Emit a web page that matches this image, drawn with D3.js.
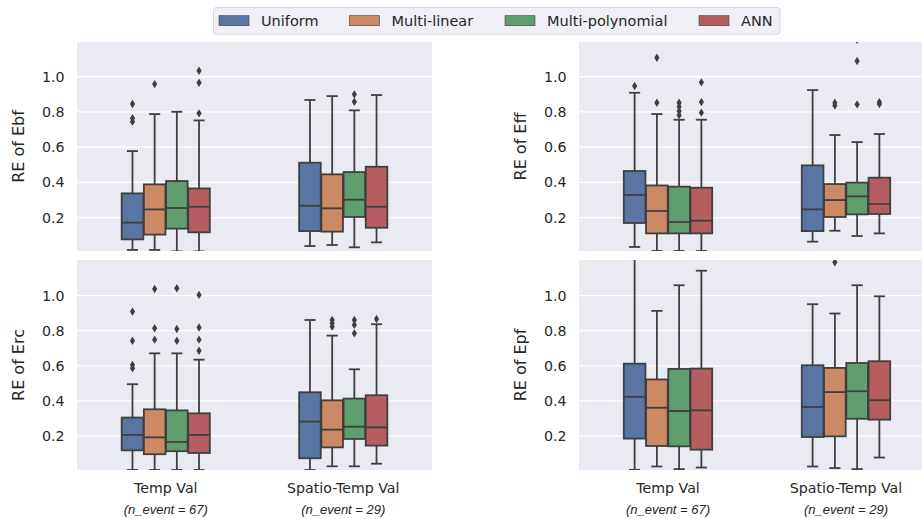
<!DOCTYPE html>
<html>
<head>
<meta charset="utf-8">
<script src="https://cdn.jsdelivr.net/npm/d3@7"></script>
<style>
html,body{margin:0;padding:0;background:#fff;}
svg{display:block;font-family:"DejaVu Sans",sans-serif;}
</style>
</head>
<body>
<svg id="chart" width="922" height="519"></svg>
<script>
// ---------------- DATA ----------------
const categories = ["Temp Val", "Spatio-Temp Val"];
const eventCounts = ["(n_event = 67)", "(n_event = 29)"];
const methods = ["Uniform", "Multi-linear", "Multi-polynomial", "ANN"];
const metrics = ["Ebf", "Eff", "Erc", "Epf"];
const yTicks = [0.2, 0.4, 0.6, 0.8, 1.0];

// box stats: [whiskerLow, Q1, median, Q3, whiskerHigh] per category, per method
const ebfStats = [
  [[0.017,0.077,0.172,0.338,0.578],[0.017,0.104,0.247,0.389,0.788],[0.009,0.138,0.255,0.408,0.801],[0.009,0.117,0.262,0.366,0.752]],
  [[0.039,0.124,0.268,0.512,0.868],[0.045,0.121,0.253,0.446,0.890],[0.032,0.204,0.302,0.459,0.809],[0.060,0.143,0.262,0.489,0.896]]
];
const ebfOutliers = [
  [[0.845,0.764,0.745],[0.958],[],[1.034,0.966,0.792]],
  [[],[],[0.900,0.858],[]]
];
const effStats = [
  [[0.034,0.170,0.329,0.465,0.909],[0.011,0.111,0.238,0.383,0.788],[0.011,0.111,0.175,0.376,0.756],[0.011,0.111,0.183,0.370,0.756]],
  [[0.064,0.124,0.247,0.497,0.924],[0.126,0.204,0.300,0.391,0.669],[0.096,0.219,0.321,0.399,0.629],[0.111,0.221,0.278,0.427,0.675]]
];
const effOutliers = [
  [[0.947],[1.108,0.852],[0.852,0.830,0.805,0.782],[0.968,0.856,0.796]],
  [[],[0.852,0.836],[1.21,1.089,0.843],[0.856,0.845]]
];
const ercStats = [
  [[0.006,0.118,0.206,0.305,0.495],[0.006,0.096,0.192,0.352,0.671],[0.006,0.113,0.166,0.346,0.671],[0.006,0.103,0.206,0.329,0.635]],
  [[0.006,0.073,0.282,0.449,0.861],[0.027,0.135,0.236,0.403,0.772],[0.027,0.183,0.253,0.413,0.580],[0.042,0.145,0.249,0.432,0.837]]
];
const ercOutliers = [
  [[0.909,0.743,0.605,0.586],[1.038,0.814,0.749],[1.042,0.810,0.743],[1.004,0.818,0.749,0.686]],
  [[],[0.861,0.842,0.823],[0.861,0.833,0.785],[0.867]]
];
const epfStats = [
  [[0.007,0.185,0.423,0.612,1.25],[0.026,0.143,0.361,0.522,0.913],[0.011,0.141,0.342,0.582,1.059],[0.020,0.122,0.346,0.584,1.142]],
  [[0.026,0.194,0.365,0.603,0.951],[0.017,0.198,0.450,0.588,0.898],[0.011,0.298,0.455,0.616,1.059],[0.077,0.293,0.404,0.626,0.996]]
];
const epfOutliers = [
  [[],[],[],[]],
  [[],[1.19],[],[]]
];

// ---------------- STYLE / LAYOUT ----------------
const colors = ["#5975a4", "#cc8963", "#5f9e6e", "#b55d60"];
const lineColor = "#3f3f3f";
const bg = "#eaeaf2";

const panels = [
  {metric:"Ebf", stats:ebfStats, outliers:ebfOutliers, x0:77,  x1:432, y0:42,  y1:251, dom:[0.011,1.197], labX:18,  showX:false},
  {metric:"Eff", stats:effStats, outliers:effOutliers, x0:579, x1:935, y0:42,  y1:251, dom:[0.011,1.197], labX:520, showX:false},
  {metric:"Erc", stats:ercStats, outliers:ercOutliers, x0:77,  x1:432, y0:260, y1:470, dom:[0.006,1.203], labX:18,  showX:true},
  {metric:"Epf", stats:epfStats, outliers:epfOutliers, x0:579, x1:935, y0:260, y1:470, dom:[0.006,1.203], labX:520, showX:true}
];

const svg = d3.select("#chart");
const color = d3.scaleOrdinal().domain(methods).range(colors);

panels.forEach((p, pi) => {
  const g = svg.append("g");
  const x = d3.scaleBand().domain(categories).range([p.x0, p.x1]);
  const groupW = x.bandwidth() * 0.5;
  const inner = d3.scaleBand().domain(methods).range([0, groupW]);
  const y = d3.scaleLinear().domain(p.dom).range([p.y1, p.y0]);

  const clipId = "clip" + pi;
  svg.append("clipPath").attr("id", clipId).append("rect")
    .attr("x", p.x0).attr("y", p.y0).attr("width", p.x1 - p.x0).attr("height", p.y1 - p.y0);

  g.append("rect").attr("x", p.x0).attr("y", p.y0)
    .attr("width", p.x1 - p.x0).attr("height", p.y1 - p.y0).attr("fill", bg);

  g.selectAll("line.grid").data(yTicks).enter().append("line")
    .attr("x1", p.x0).attr("x2", p.x1)
    .attr("y1", d => y(d)).attr("y2", d => y(d))
    .attr("stroke", "#fff").attr("stroke-width", 1.3);

  // y axis
  const yAxis = g.append("g").attr("transform", `translate(${p.x0},0)`)
    .call(d3.axisLeft(y).tickValues(yTicks).tickSize(0).tickPadding(12.5).tickFormat(d3.format(".1f")));
  yAxis.select(".domain").remove();
  yAxis.selectAll("text").attr("font-size", "14.2px").attr("fill", "#262626")
    .attr("font-family", "DejaVu Sans");

  g.append("text")
    .attr("transform", `translate(${p.labX},${(p.y0 + p.y1) / 2}) rotate(-90)`)
    .attr("text-anchor", "middle").attr("dy", "0.35em")
    .attr("font-size", "16px").attr("fill", "#262626")
    .text("RE of " + p.metric);

  // boxes
  const plot = g.append("g").attr("clip-path", `url(#${clipId})`);
  categories.forEach((cat, ci) => {
    methods.forEach((m, mi) => {
      const s = p.stats[ci][mi];
      const bw = inner.bandwidth();
      const bx = x(cat) + (x.bandwidth() - groupW) / 2 + inner(m);
      const cx = bx + bw / 2;
      const bxg = plot.append("g");
      // whiskers
      bxg.append("line").attr("x1", cx).attr("x2", cx).attr("y1", y(s[0])).attr("y2", y(s[1]))
        .attr("stroke", lineColor).attr("stroke-width", 1.8);
      bxg.append("line").attr("x1", cx).attr("x2", cx).attr("y1", y(s[3])).attr("y2", y(s[4]))
        .attr("stroke", lineColor).attr("stroke-width", 1.8);
      // caps
      [s[0], s[4]].forEach(v => {
        bxg.append("line").attr("x1", cx - bw / 4).attr("x2", cx + bw / 4)
          .attr("y1", y(v)).attr("y2", y(v))
          .attr("stroke", lineColor).attr("stroke-width", 1.8);
      });
      // box
      bxg.append("rect").attr("x", bx + 0.3).attr("width", bw - 0.6)
        .attr("y", y(s[3])).attr("height", y(s[1]) - y(s[3]))
        .attr("fill", color(m)).attr("stroke", lineColor).attr("stroke-width", 1.8);
      // median
      bxg.append("line").attr("x1", bx + 0.3).attr("x2", bx + bw - 0.3)
        .attr("y1", y(s[2])).attr("y2", y(s[2]))
        .attr("stroke", lineColor).attr("stroke-width", 1.8);
      // outliers (diamonds)
      bxg.selectAll("path.out").data(p.outliers[ci][mi]).enter().append("path")
        .attr("d", d => `M${cx},${y(d) - 4.2}L${cx + 2.6},${y(d)}L${cx},${y(d) + 4.2}L${cx - 2.6},${y(d)}Z`)
        .attr("fill", lineColor);
    });
  });

  if (p.showX) {
    const xAxis = g.append("g").attr("transform", `translate(0,${p.y1})`)
      .call(d3.axisBottom(x).tickSize(0).tickPadding(12.5));
    xAxis.select(".domain").remove();
    xAxis.selectAll("text").attr("font-size", "14.2px").attr("fill", "#262626")
      .attr("font-family", "DejaVu Sans");
    g.selectAll("text.nev").data(categories).enter().append("text")
      .attr("x", d => x(d) + x.bandwidth() / 2).attr("y", 514)
      .attr("text-anchor", "middle")
      .attr("font-family", "Liberation Sans, Arial, sans-serif")
      .attr("font-style", "italic").attr("font-size", "13px").attr("fill", "#262626")
      .text((d, i) => eventCounts[i]);
  }
});

// legend
const leg = svg.append("g");
leg.append("rect").attr("x", 213.5).attr("y", 7.5).attr("width", 566.5).attr("height", 26.8)
  .attr("rx", 3).attr("fill", "#efeff5").attr("stroke", "#d6d6de").attr("stroke-width", 1);
const swX = [219, 349.5, 505, 699];
methods.forEach((m, i) => {
  leg.append("rect").attr("x", swX[i]).attr("y", 15.7).attr("width", 30).attr("height", 10)
    .attr("fill", color(m)).attr("stroke", lineColor).attr("stroke-width", 0.6);
  leg.append("text").attr("x", swX[i] + 42).attr("y", 20.7).attr("dy", "0.35em")
    .attr("font-size", "14.5px").attr("fill", "#262626").text(m);
});
</script>
</body>
</html>
